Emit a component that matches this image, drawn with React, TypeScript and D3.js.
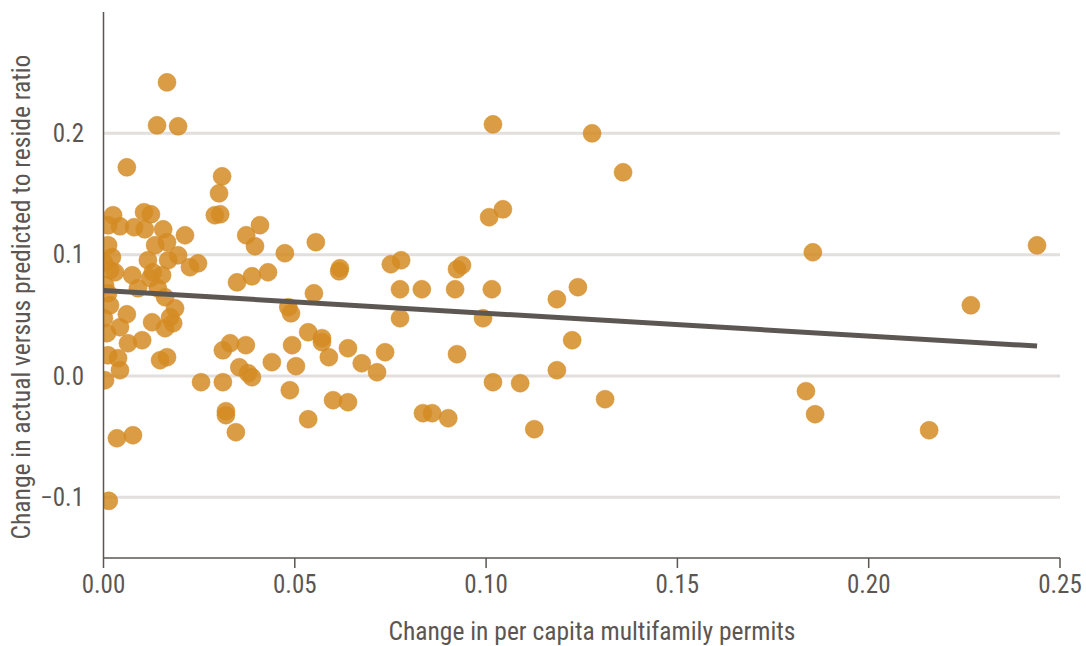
import React from "react";
import * as d3 from "d3";

// Change in per capita multifamily permits (x) for each metro
const permitChange: number[] = [
  0.0166, 0.0140, 0.0195, 0.1018, 0.1277, 0.1358, 0.0061, 0.0310, 0.0302, 0.0291,
  0.0305, 0.0409, 0.1008, 0.1044, 0.0025, 0.0106, 0.0124, 0.0043, 0.0080, 0.0108,
  0.0156, 0.0213, 0.0166, 0.0135, 0.0012, 0.0012, 0.0022, 0.0195, 0.0169, 0.0116,
  0.0247, 0.0226, 0.0075, 0.0129, 0.0153, 0.0122, 0.0030, 0.0017, 0.0090, 0.0142,
  0.0012, 0.0349, 0.0388, 0.0430, 0.0396, 0.0373, 0.0474, 0.0555, 0.0550, 0.0618,
  0.0616, 0.0751, 0.0778, 0.0775, 0.0832, 0.0919, 0.0924, 0.0937, 0.1015, 0.0992,
  0.1185, 0.1240, 0.1225, 0.1185, 0.1018, 0.1089, 0.1311, 0.1126, 0.0924, 0.0775,
  0.0483, 0.0490, 0.0535, 0.0571, 0.0571, 0.0493, 0.0639, 0.0736, 0.0589, 0.0675,
  0.0715, 0.0503, 0.0440, 0.0487, 0.0600, 0.0639, 0.0535, 0.0835, 0.0859, 0.0901,
  0.0355, 0.0378, 0.0388, 0.0312, 0.0331, 0.0372, 0.0255, 0.0312, 0.0320, 0.0320,
  0.0346, 0.0035, 0.0077, 0.0014, 0.0161, 0.0187, 0.0174, 0.0182, 0.0161, 0.0127,
  0.0061, 0.0043, 0.0009, 0.0017, 0.0064, 0.0101, 0.0148, 0.0166, 0.0012, 0.0038,
  0.0043, 0.0004, 0.1854, 0.2440, 0.2267, 0.1836, 0.1860, 0.2158, 0.0001, 0.0004,
  0.0001,
];

// Change in actual versus predicted to reside ratio (y), same order
const resideChange: number[] = [
  0.2420, 0.2066, 0.2058, 0.2074, 0.2000, 0.1679, 0.1720, 0.1646, 0.1506, 0.1325,
  0.1333, 0.1243, 0.1309, 0.1374, 0.1325, 0.1350, 0.1333, 0.1234, 0.1226, 0.1209,
  0.1209, 0.1160, 0.1103, 0.1078, 0.1242, 0.1078, 0.0979, 0.0995, 0.0954, 0.0954,
  0.0929, 0.0897, 0.0831, 0.0855, 0.0831, 0.0806, 0.0855, 0.0872, 0.0723, 0.0723,
  0.0682, 0.0772, 0.0822, 0.0855, 0.1070, 0.1160, 0.1012, 0.1103, 0.0682, 0.0888,
  0.0863, 0.0921, 0.0954, 0.0715, 0.0715, 0.0715, 0.0880, 0.0913, 0.0715, 0.0476,
  0.0633, 0.0732, 0.0295, 0.0048, -0.0051, -0.0059, -0.0191, -0.0438, 0.0180, 0.0476,
  0.0567, 0.0517, 0.0361, 0.0312, 0.0279, 0.0254, 0.0229, 0.0196, 0.0155, 0.0105,
  0.0031, 0.0081, 0.0114, -0.0117, -0.0199, -0.0216, -0.0356, -0.0306, -0.0306, -0.0348,
  0.0072, 0.0023, -0.0010, 0.0212, 0.0270, 0.0254, -0.0051, -0.0051, -0.0290, -0.0323,
  -0.0463, -0.0513, -0.0488, -0.1029, 0.0649, 0.0558, 0.0484, 0.0435, 0.0394, 0.0443,
  0.0509, 0.0402, 0.0353, 0.0583, 0.0270, 0.0295, 0.0130, 0.0155, 0.0171, 0.0147,
  0.0048, -0.0035, 0.1020, 0.1077, 0.0583, -0.0125, -0.0315, -0.0447, 0.0936, 0.0748,
  0.0476,
];

// Fitted linear trend: y = intercept + slope * x
const trendIntercept = 0.0705;
const trendSlope = -0.188;

const xTicks: number[] = [0, 0.05, 0.1, 0.15, 0.2, 0.25];
const yTicks: number[] = [-0.1, 0, 0.1, 0.2];

const xTitle = "Change in per capita multifamily permits";
const yTitle = "Change in actual versus predicted to reside ratio";

const W = 1086;
const H = 646;
const FONT = "'Liberation Sans Narrow', 'Roboto Condensed', 'DejaVu Sans Condensed', 'Liberation Sans', sans-serif";
const TEXT = "#5b5652";
const AXIS = "#5b5652";
const GRID = "#e2dfdc";
const DOT = "rgb(211,139,35)";

export default function App() {
  const x = d3.scaleLinear().domain([0, 0.25]).range([103.5, 1060]);
  const y = d3.scaleLinear().domain([-0.15, 0.3]).range([558, 12]);

  const xMax = d3.max(permitChange) ?? 0.25;
  const trend = d3
    .line<number>()
    .x((d) => x(d))
    .y((d) => y(trendIntercept + trendSlope * d))([0, xMax]);

  const points = permitChange.map((v, i) => ({ px: v, py: resideChange[i] }));

  return (
    <svg
      width={W}
      height={H}
      style={{ position: "absolute", left: 0, top: 0, background: "#fff" }}
      fontFamily={FONT}
    >
      <defs>
        <clipPath id="plot-area">
          <rect x={x(0)} y={0} width={W - x(0)} height={y(-0.15)} />
        </clipPath>
      </defs>

      {/* horizontal gridlines */}
      {yTicks.map((t) => (
        <line key={`g${t}`} x1={x(0)} x2={x(0.25)} y1={y(t)} y2={y(t)} stroke={GRID} strokeWidth={3} />
      ))}

      {/* scatter points */}
      <g clipPath="url(#plot-area)">
        {points.map((p, i) => (
          <circle
            key={i}
            cx={x(p.px)}
            cy={y(p.py)}
            r={9}
            fill={DOT}
            fillOpacity={0.85}
            stroke={DOT}
            strokeOpacity={0.5}
            strokeWidth={1}
          />
        ))}
      </g>

      {/* trend line */}
      <path d={trend ?? ""} fill="none" stroke="#5c5752" strokeWidth={5} />

      {/* axes */}
      <line x1={x(0)} x2={x(0)} y1={y(0.3)} y2={y(-0.15)} stroke={AXIS} strokeWidth={1.5} />
      <line x1={x(0)} x2={x(0.25)} y1={y(-0.15)} y2={y(-0.15)} stroke={AXIS} strokeWidth={1.5} />

      {xTicks.map((t) => (
        <g key={`x${t}`} transform={`translate(${x(t)},${y(-0.15)})`}>
          <line y1={0} y2={10} stroke={AXIS} strokeWidth={1.5} />
          <text y={35} textAnchor="middle" fontSize={25} fill={TEXT}>
            {d3.format(".2f")(t)}
          </text>
        </g>
      ))}

      {yTicks.map((t) => (
        <text
          key={`y${t}`}
          x={84}
          y={y(t)}
          dy="0.35em"
          textAnchor="end"
          fontSize={25}
          fill={TEXT}
        >
          {d3.format(".1f")(t)}
        </text>
      ))}

      <text x={592} y={640} textAnchor="middle" fontSize={25.5} fill={TEXT}>
        {xTitle}
      </text>
      <text
        transform={`translate(30,${(y(0.3) + y(-0.15)) / 2 + 12}) rotate(-90)`}
        textAnchor="middle"
        fontSize={25.5}
        fill={TEXT}
      >
        {yTitle}
      </text>
    </svg>
  );
}
